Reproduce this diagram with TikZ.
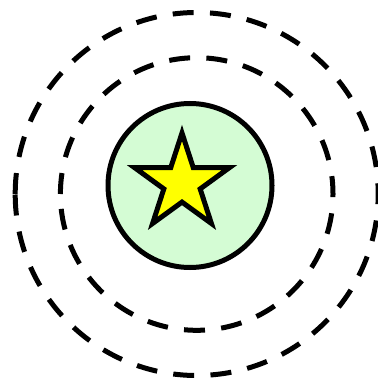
\documentclass[tikz,border=0pt]{standalone}
\definecolor{ringfill}{RGB}{212,252,212}
\definecolor{starfill}{RGB}{255,255,0}
\tikzset{
  orbit/.style={draw=black, line width=5pt, dash pattern=on 21pt off 16.3pt},
  core/.style={draw=black, line width=5pt, fill=ringfill},
  starshape/.style={draw=black, line width=5pt, fill=starfill, line join=miter}
}
\begin{document}
\begin{tikzpicture}[x=1pt,y=1pt]
\useasboundingbox (0,0) rectangle (377,-382);
\coordinate (oc) at (196.7,-194);
\coordinate (cc) at (190,-185.5);
\coordinate (sc) at (182,-183);
\draw[orbit] (oc) ++(180:181.5) arc[start angle=180, end angle=-180, radius=181.5];
\draw[orbit] (oc) ++(180:136.3) arc[start angle=180, end angle=-180, radius=136.3];
\draw[core] (cc) circle[radius=82];
\begin{scope}[shift={(sc)}]
\draw[starshape] (90:50) -- (126:19.1) -- (162:50) -- (198:19.1) -- (234:50) -- (270:19.1) -- (306:50) -- (342:19.1) -- (18:50) -- (54:19.1) -- cycle;
\end{scope}
\end{tikzpicture}
\end{document}
